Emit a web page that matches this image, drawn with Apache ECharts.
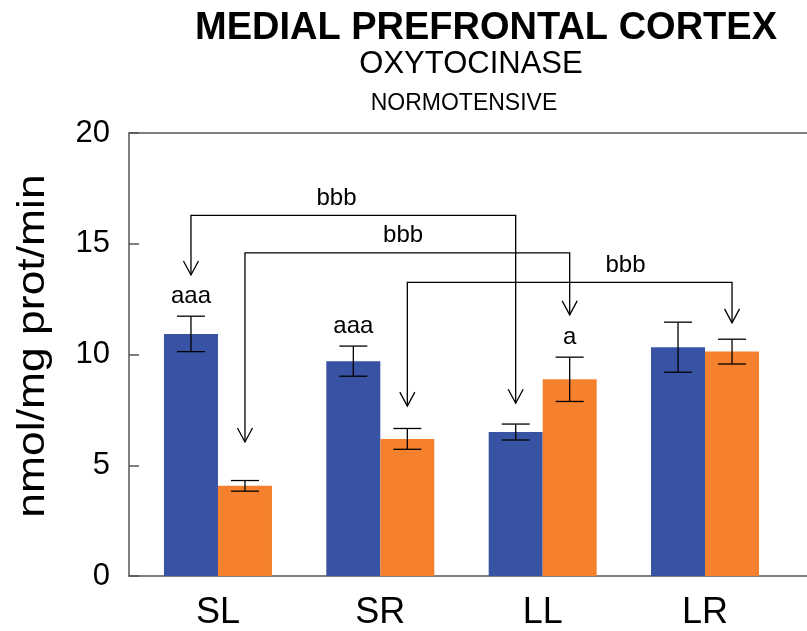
<!DOCTYPE html>
<html>
<head>
<meta charset="utf-8">
<script src="https://cdn.jsdelivr.net/npm/echarts@6/dist/echarts.min.js"></script>
<style>
  html, body { margin: 0; padding: 0; background: #fff; }
  #chart { width: 807px; height: 631px; }
</style>
</head>
<body>
<div id="chart"></div>
<script>
// Groups along the x axis
const categories = ['SL', 'SR', 'LL', 'LR'];

// Blue bars: means and SEM
const blueMeans = [10.93, 9.70, 6.50, 10.33];
const blueSem = [0.80, 0.68, 0.36, 1.13];
const blueLetters = ['aaa', 'aaa', '', ''];

// Orange bars: means and SEM
const orangeMeans = [4.07, 6.19, 8.88, 10.13];
const orangeSem = [0.24, 0.47, 1.00, 0.56];
const orangeLetters = ['', '', 'a', ''];

// y-axis ticks
const yTicks = { min: 0, max: 20, step: 5 };

// Comparison brackets: [fromGroup, fromSide, toGroup, toSide]; side 0 = blue, 1 = orange
const bracketEnds = [
  [0, 0, 2, 0],
  [0, 1, 2, 1],
  [1, 1, 3, 1]
];
const bracketLevels = [16.28, 14.59, 13.26];
const bracketTips = [[13.59, 7.80], [6.05, 11.79], [7.67, 11.43]];
const bracketLabels = ['bbb', 'bbb', 'bbb'];
const bracketLabelX = [0.73, 1.14, 2.51];

const BAR_W = 54;
const COLORS = { blue: '#3953a4', orange: '#f5812e' };
const FONT = 'Liberation Sans, Arial, Helvetica, sans-serif';

const chart = echarts.init(document.getElementById('chart'), null, { renderer: 'canvas' });

function toPairs(arr) { return arr.map((v, i) => [i, v]); }

function errorBarSeries(means, sem, letters, side) {
  return {
    type: 'custom',
    coordinateSystem: 'cartesian2d',
    xAxisIndex: 0,
    yAxisIndex: 0,
    z: 5,
    silent: true,
    data: means.map((m, i) => [i, m - sem[i], m + sem[i]]),
    renderItem: function (params, api) {
      const i = api.value(0);
      const lo = api.coord([i, api.value(1)]);
      const hi = api.coord([i, api.value(2)]);
      const x = lo[0] + (side === 0 ? -BAR_W / 2 : BAR_W / 2);
      const cap = 14;
      const style = { stroke: '#000', lineWidth: 1.3 };
      const children = [
        { type: 'line', shape: { x1: x, y1: lo[1], x2: x, y2: hi[1] }, style: style },
        { type: 'line', shape: { x1: x - cap, y1: hi[1], x2: x + cap, y2: hi[1] }, style: style },
        { type: 'line', shape: { x1: x - cap, y1: lo[1], x2: x + cap, y2: lo[1] }, style: style }
      ];
      const letter = letters[params.dataIndex];
      if (letter) {
        children.push({
          type: 'text',
          style: {
            text: letter, x: x, y: hi[1] - 20,
            align: 'center', verticalAlign: 'middle',
            font: '24px ' + FONT, fill: '#000'
          }
        });
      }
      return { type: 'group', children: children };
    }
  };
}

function arrowHead(x, y) {
  return {
    type: 'polyline',
    shape: { points: [[x - 7.5, y - 14], [x, y], [x + 7.5, y - 14]] },
    style: { stroke: '#000', lineWidth: 1.3, fill: null }
  };
}

const bracketSeries = {
  type: 'custom',
  coordinateSystem: 'cartesian2d',
  xAxisIndex: 0,
  yAxisIndex: 0,
  z: 6,
  silent: true,
  data: bracketLevels.map((lv, i) => [bracketLabelX[i], lv]),
  renderItem: function (params, api) {
    const k = params.dataIndex;
    const e = bracketEnds[k];
    const lv = bracketLevels[k];
    const tips = bracketTips[k];
    const pA = api.coord([e[0], lv]);
    const pB = api.coord([e[2], lv]);
    const xA = pA[0] + (e[1] === 0 ? -BAR_W / 2 : BAR_W / 2);
    const xB = pB[0] + (e[3] === 0 ? -BAR_W / 2 : BAR_W / 2);
    const yL = pA[1];
    const tA = api.coord([e[0], tips[0]])[1];
    const tB = api.coord([e[2], tips[1]])[1];
    const lab = api.coord([bracketLabelX[k], lv]);
    return {
      type: 'group',
      children: [
        {
          type: 'polyline',
          shape: { points: [[xA, tA], [xA, yL], [xB, yL], [xB, tB]] },
          style: { stroke: '#000', lineWidth: 1.3, fill: null }
        },
        arrowHead(xA, tA),
        arrowHead(xB, tB),
        {
          type: 'text',
          style: {
            text: bracketLabels[k], x: lab[0], y: yL - 17,
            align: 'center', verticalAlign: 'middle',
            font: '24px ' + FONT, fill: '#000'
          }
        }
      ]
    };
  }
};

const xRange = { min: -0.548, max: 3.628 };

const option = {
  backgroundColor: '#fff',
  animation: false,
  textStyle: { fontFamily: FONT },
  grid: { left: 129, right: 0, top: 133, bottom: 52, containLabel: false },
  graphic: [
    {
      type: 'text', x: 486, y: 29,
      style: { text: 'MEDIAL PREFRONTAL CORTEX', font: 'bold 38px ' + FONT, fill: '#000', align: 'center', verticalAlign: 'middle' }
    },
    {
      type: 'text', x: 471, y: 64,
      style: { text: 'OXYTOCINASE', font: '31px ' + FONT, fill: '#000', align: 'center', verticalAlign: 'middle' }
    },
    {
      type: 'text', x: 464, y: 104,
      style: { text: 'NORMOTENSIVE', font: '23px ' + FONT, fill: '#000', align: 'center', verticalAlign: 'middle' }
    },
    {
      // y-axis title, drawn a little wide along its length
      type: 'text', x: 34, y: 346, rotation: Math.PI / 2, scaleX: 1.17,
      style: { text: 'nmol/mg prot/min', font: '38px ' + FONT, fill: '#000', align: 'center', verticalAlign: 'middle' }
    }
  ],
  xAxis: [
    {
      type: 'value', position: 'bottom', min: xRange.min, max: xRange.max,
      axisLine: { show: true, onZero: false, lineStyle: { color: '#555', width: 1.5 } },
      axisTick: { show: false },
      splitLine: { show: false },
      axisLabel: {
        customValues: [0, 1, 2, 3],
        formatter: v => categories[Math.round(v)],
        fontSize: 36, color: '#000', margin: 19, fontFamily: FONT
      }
    },
    {
      type: 'value', position: 'top', min: xRange.min, max: xRange.max,
      axisLine: { show: true, onZero: false, lineStyle: { color: '#555', width: 1.5 } },
      axisTick: { show: false },
      axisLabel: { show: false },
      splitLine: { show: false }
    }
  ],
  yAxis: {
    type: 'value', min: yTicks.min, max: yTicks.max, interval: yTicks.step,
    axisLine: { show: true, onZero: false, lineStyle: { color: '#555', width: 1.5 } },
    axisTick: { show: true, inside: true, length: 10, lineStyle: { color: '#555', width: 1.5 } },
    splitLine: { show: false },
    axisLabel: { fontSize: 31, color: '#000', margin: 19, fontFamily: FONT }
  },
  series: [
    {
      name: 'blue', type: 'bar', xAxisIndex: 0, yAxisIndex: 0,
      barWidth: BAR_W, barGap: '0%',
      itemStyle: { color: COLORS.blue },
      data: toPairs(blueMeans)
    },
    {
      name: 'orange', type: 'bar', xAxisIndex: 0, yAxisIndex: 0,
      barWidth: BAR_W, barGap: '0%',
      itemStyle: { color: COLORS.orange },
      data: toPairs(orangeMeans)
    },
    errorBarSeries(blueMeans, blueSem, blueLetters, 0),
    errorBarSeries(orangeMeans, orangeSem, orangeLetters, 1),
    bracketSeries
  ]
};

chart.setOption(option);
</script>
</body>
</html>
